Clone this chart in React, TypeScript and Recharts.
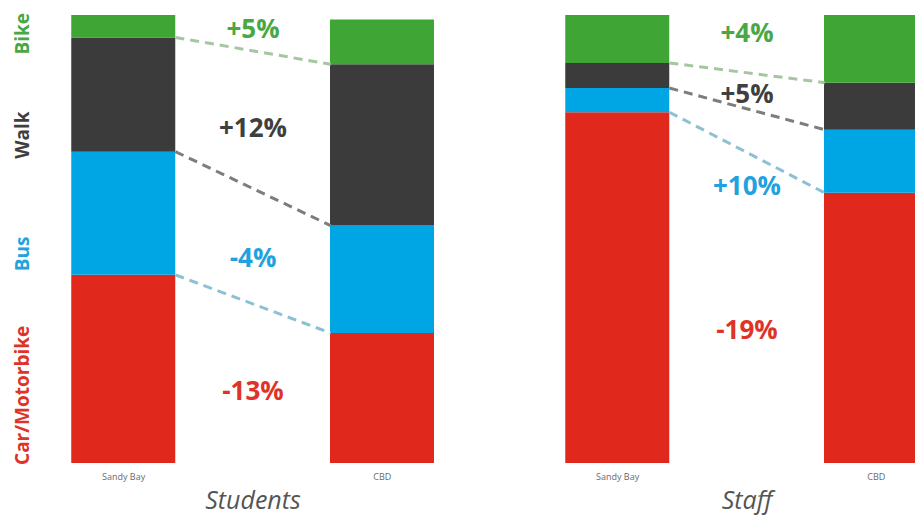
import { BarChart, Bar, XAxis, YAxis, ReferenceLine, ReferenceDot, Label } from 'recharts'

const sites = ['Sandy Bay', 'CBD']
const modes = ['Car/Motorbike', 'Bus', 'Walk', 'Bike']
const modeKeys = ['car', 'bus', 'walk', 'bike']
const modeColors = ['#e0281c', '#00a5e3', '#3b3b3b', '#3fa535']
const labelColors = ['#df3327', '#1fa2dd', '#3f3f3f', '#49a845']
// dashed links sit on the top edge of car, bus and walk
const linkColors = ['#8cc0d2', '#7d7d7d', '#a6c6a2']

// share of trips (%), Sandy Bay then CBD
const studentCar = [42, 29]
const studentBus = [27.5, 24]
const studentWalk = [25.5, 36]
const studentBike = [5, 10]
const staffCar = [78.3, 60.3]
const staffBus = [5.4, 14.1]
const staffWalk = [5.6, 10.5]
const staffBike = [10.7, 15.1]

const studentChange = ['-13%', '-4%', '+12%', '+5%']
const staffChange = ['-19%', '+10%', '+5%', '+4%']
// where the change labels and mode names sit on the % scale
const studentChangeAt = [16.3, 46, 74.9, 97]
const staffChangeAt = [29.8, 62.1, 82.7, 96.3]
const modeNameAt = [15.1, 46.7, 73.2, 95.8]

const FONT = '"Open Sans", sans-serif'
const PLOT_W = 414
const DOMAIN: [number, number] = [-0.3, 1.3]
const BAR_UNITS = 0.4

function ModeTick(props: any) {
  const { x, y, payload } = props
  const i = modeNameAt.indexOf(payload.value)
  const cx = x - 16
  return (
    <text x={cx} y={y} transform={`rotate(-90 ${cx} ${y})`} textAnchor="middle" dominantBaseline="central"
      fill={labelColors[i]} fontSize={19} fontWeight={700} fontFamily={FONT}>
      {modes[i]}
    </text>
  )
}

type PanelProps = {
  title: string
  car: number[]; bus: number[]; walk: number[]; bike: number[]
  change: string[]; changeAt: number[]
  showModes: boolean
  left: number
}

function Panel({ title, car, bus, walk, bike, change, changeAt, showModes, left }: PanelProps) {
  const cols = [car, bus, walk, bike]
  const rows = sites.map((s, i) => ({ x: i, site: s, car: car[i], bus: bus[i], walk: walk[i], bike: bike[i] }))
  const cum = sites.map((_, i) => {
    let t = 0
    return cols.map((c) => (t += c[i]))
  })
  const yW = showModes ? 46 : 0
  const unitPx = PLOT_W / (DOMAIN[1] - DOMAIN[0])
  const half = BAR_UNITS / 2

  return (
    <div style={{ position: 'absolute', left, top: 0 }}>
      <BarChart width={PLOT_W + yW} height={517} data={rows} margin={{ top: 15, right: 0, bottom: 0, left: 0 }}>
        <XAxis
          dataKey="x" type="number" domain={DOMAIN} ticks={[0, 1]} height={54}
          axisLine={false} tickLine={false} tickMargin={5}
          tickFormatter={(v: number) => sites[v]}
          tick={{ fill: '#6a6a6a', fontSize: 9, fontFamily: FONT }}
        >
          <Label value={title} position="insideBottom" offset={8} fill="#555" fontSize={25} fontStyle="italic" fontFamily={FONT} />
        </XAxis>
        <YAxis
          type="number" domain={[0, 100]} ticks={modeNameAt} width={yW} hide={!showModes}
          axisLine={false} tickLine={false} tick={<ModeTick />}
        />
        {modeKeys.map((k, i) => (
          <Bar key={k} dataKey={k} stackId="a" fill={modeColors[i]} barSize={Math.round(BAR_UNITS * unitPx)} isAnimationActive={false} />
        ))}
        {[0, 1, 2].map((k) => (
          <ReferenceLine
            key={'l' + k}
            segment={[{ x: half, y: cum[0][k] }, { x: 1 - half, y: cum[1][k] }]}
            stroke={linkColors[k]} strokeWidth={3} strokeDasharray="9 6"
          />
        ))}
        {change.map((c, i) => (
          <ReferenceDot
            key={'c' + i} x={0.5} y={changeAt[i]} r={0}
            shape={(p: any) => (
              <text x={p.cx} y={p.cy} textAnchor="middle" dominantBaseline="central"
                fill={labelColors[i]} fontSize={26} fontWeight={700} fontFamily={FONT}>
                {c}
              </text>
            )}
          />
        ))}
      </BarChart>
    </div>
  )
}

export default function App() {
  return (
    <div style={{ position: 'fixed', left: 0, top: 0, width: 915, height: 517, overflow: 'hidden', background: '#fff' }}>
      <Panel title="Students" car={studentCar} bus={studentBus} walk={studentWalk} bike={studentBike}
        change={studentChange} changeAt={studentChangeAt} showModes left={0} />
      <Panel title="Staff" car={staffCar} bus={staffBus} walk={staffWalk} bike={staffBike}
        change={staffChange} changeAt={staffChangeAt} showModes={false} left={540} />
    </div>
  )
}
